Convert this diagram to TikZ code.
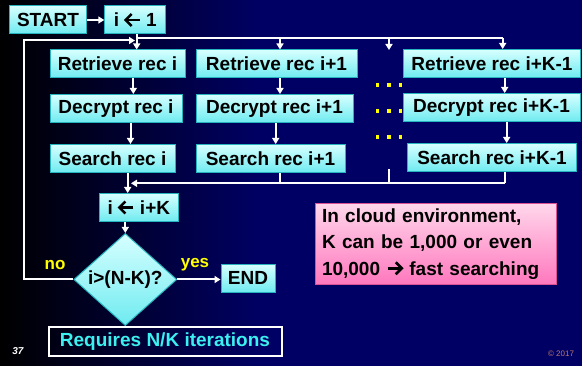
\documentclass[tikz,border=0pt]{standalone}
\usepackage{fontspec}
\setmainfont{Liberation Sans}
\usetikzlibrary{shapes.geometric,arrows.meta}
\definecolor{bgnavy}{RGB}{0,0,100}
\definecolor{cyantop}{RGB}{215,255,255}
\definecolor{cyanbot}{RGB}{110,235,240}
\definecolor{cyanedge}{RGB}{40,180,190}
\definecolor{pinktop}{RGB}{255,215,235}
\definecolor{pinkbot}{RGB}{255,120,190}
\definecolor{pinkedge}{RGB}{220,80,150}
\definecolor{dotyellow}{RGB}{255,255,0}
\definecolor{reqcyan}{RGB}{60,240,240}
\definecolor{copyc}{RGB}{190,120,110}
\newcommand\myleftarrow{\tikz[x=1pt,y=1pt,baseline=-6.8pt]{\draw[line width=2.6pt,line join=miter] (16,0) -- (2,0); \draw[line width=2.6pt,line join=miter] (8,6) -- (2,0) -- (8,-6);}}
\newcommand\myrightarrow{\tikz[x=1pt,y=1pt,baseline=-6.8pt]{\draw[line width=2.6pt,line join=miter] (0,0) -- (14,0); \draw[line width=2.6pt,line join=miter] (8,6) -- (14,0) -- (8,-6);}}
\begin{document}
\begin{tikzpicture}[x=1pt,y=-1pt,
  box/.style={draw=cyanedge, line width=1pt, top color=cyantop, bottom color=cyanbot,
    inner sep=0pt, minimum height=28, font=\fontsize{19}{22}\selectfont\bfseries, text=black},
  line/.style={draw=white, line width=2pt},
  arr/.style={line, -{Triangle[width=7pt,length=6pt]}},
  lab/.style={font=\fontsize{17}{20}\selectfont\bfseries, text=dotyellow},
  dotbox/.style={fill=dotyellow}]
\useasboundingbox (0,0) rectangle (582,366);
\shade[left color=black, right color=bgnavy] (0,0) rectangle (260,366);
\fill[bgnavy] (259.5,0) rectangle (582,366);

% header
\node[box, minimum width=77] (start) at (48,20) {START};
\node[box, minimum width=61] (init) at (135.3,20) {i \myleftarrow\ 1};
\draw[arr] (start) -- (init);

% column 1
\node[box, minimum width=135] (ret1) at (117.5,64) {Retrieve rec i};
\node[box, minimum width=132] (dec1) at (116,108.5) {Decrypt rec i};
\node[box, minimum width=125] (sea1) at (112.5,158.5) {Search rec i};
% column 2
\node[box, minimum width=161] (ret2) at (276.5,64) {Retrieve rec i+1};
\node[box, minimum width=157] (dec2) at (274.5,108.5) {Decrypt rec i+1};
\node[box, minimum width=149] (sea2) at (270.5,158.5) {Search rec i+1};
% column 3
\node[box, minimum width=177] (ret3) at (492,63.5) {Retrieve rec i+K-1};
\node[box, minimum width=177] (dec3) at (491.5,107.5) {Decrypt rec i+K-1};
\node[box, minimum width=169] (sea3) at (492,157.5) {Search rec i+K-1};

% dots
\foreach \yy in {85,111,137}
  \foreach \xx in {377.5,389,400.5}
    \fill[dotbox] (\xx-1.6,\yy-1.6) rectangle (\xx+1.6,\yy+1.6);

% broadcast from init
\coordinate (bcR) at (502.7,38);
\coordinate (bcL) at (136.7,38);
\coordinate (dotsTop) at (389,50);
\coordinate (dotsBot) at (389,169);
\draw[arr] (init.south -| bcL) -- (ret1.north -| bcL);
\draw[line] (bcL) -- (bcR);
\draw[arr] (bcR) -- (ret3.north -| bcR);
\draw[arr] (bcL -| 280,0) -- (ret2.north -| 280,0);
\draw[arr] (bcL -| dotsTop) -- (dotsTop);

% column arrows
\draw[arr] (ret1.south -| 133.3,0) -- (dec1.north -| 133.3,0);
\draw[arr] (dec1.south -| 130.5,0) -- (sea1.north -| 130.5,0);
\draw[arr] (ret2.south -| 280,0) -- (dec2.north -| 280,0);
\draw[arr] (dec2.south -| 275.7,0) -- (sea2.north -| 275.7,0);
\draw[arr] (ret3.south -| 504.7,0) -- (dec3.north -| 504.7,0);
\draw[arr] (dec3.south -| 506.7,0) -- (sea3.north -| 506.7,0);

% gather
\node[box, minimum width=79] (inc) at (138.8,207.5) {i \myleftarrow\ i+K};
\coordinate (gR) at (505,183.3);
\coordinate (gL) at (131,183.3);
\draw[line] (sea3.south -| gR) -- (gR);
\draw[arr] (gR) -- (gL);
\draw[line] (dotsBot) -- (dotsBot |- gR);
\draw[line] (sea2.south -| 280,0) -- (gR -| 280,0);
\draw[arr] (sea1.south -| 127.7,0) -- (inc.north -| 127.7,0);

% decision
\node[draw=cyanedge, line width=1pt, top color=cyantop, bottom color=cyanbot, shape=diamond,
  inner sep=0pt, minimum width=103, minimum height=73, font=\fontsize{19}{22}\selectfont\bfseries]
  (dec) at (125.3,279.5) {i>(N-K)?};
\draw[arr] (inc.south -| dec.north) -- (dec.north);
\node[box, minimum width=54] (endn) at (248,278.3) {END};
\draw[arr] (dec.east) -- (endn.west |- dec.east);
\coordinate (loopC) at (24,40.5);
\coordinate (loopE) at (135,40.5);
\draw[arr] (dec.west) -| (loopC) -- (loopE);
\node[lab] (no) at (55,265) {no};
\node[lab] (yes) at (195,265) {yes};

% notes
\node[draw=white, line width=2pt, minimum width=233, minimum height=29, inner sep=0pt,
  text=reqcyan, font=\fontsize{19}{22}\selectfont\bfseries] (req) at (165,342) {Requires N/K iterations};
\node[draw=pinkedge, line width=1pt, top color=pinktop, bottom color=pinkbot,
  minimum width=241.7, minimum height=80.7, text width=228, align=left, inner sep=0pt,
  font=\fontsize{19}{26.5}\selectfont\bfseries, text=black] (cloud) at (436,243.7)
  {In cloud environment,\\K can be 1,000 or even\\10,000 \myrightarrow\ fast searching};
\node[font=\fontsize{10}{12}\selectfont\bfseries\itshape, text=white] (pg) at (18,351) {37};
\node[font=\fontsize{8}{10}\selectfont, text=copyc] (copy) at (561,354) {\char"00A9\ 2017};
\end{tikzpicture}
\end{document}
